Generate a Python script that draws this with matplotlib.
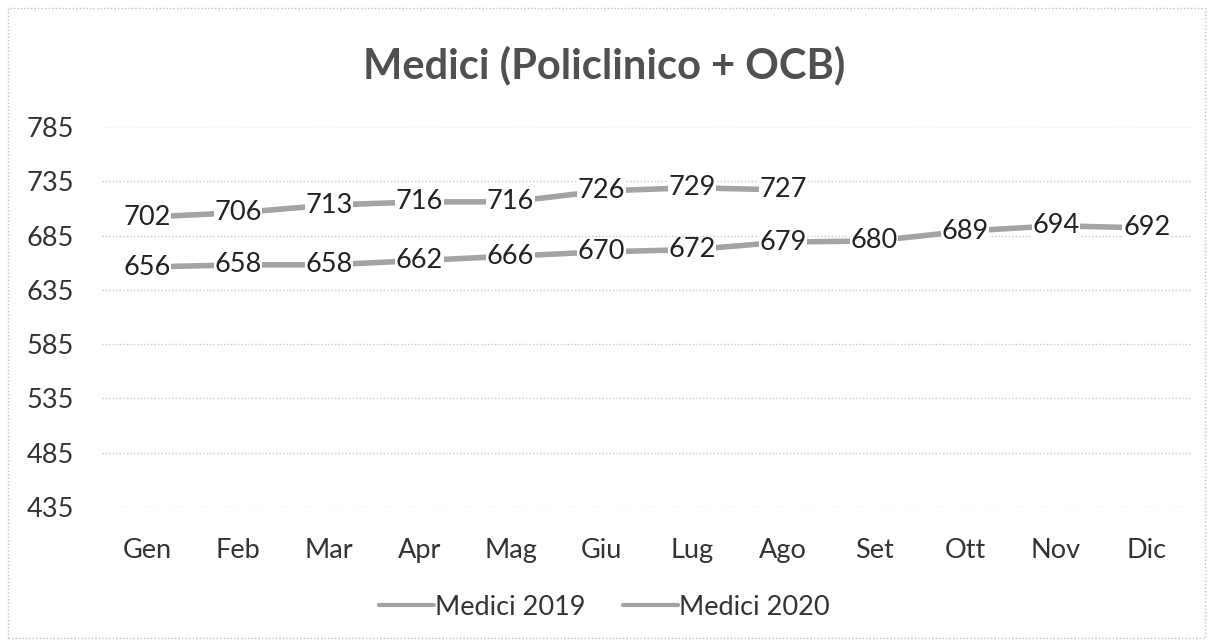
import matplotlib.pyplot as plt
from matplotlib.patches import Rectangle

# dati
mesi = ["Gen", "Feb", "Mar", "Apr", "Mag", "Giu", "Lug", "Ago", "Set", "Ott", "Nov", "Dic"]
medici_2019 = [656, 658, 658, 662, 666, 670, 672, 679, 680, 689, 694, 692]
medici_2020 = [702, 706, 713, 716, 716, 726, 729, 727]
y_ticks = [435, 485, 535, 585, 635, 685, 735, 785]

plt.rcParams['font.family'] = ['Lato', 'DejaVu Sans']

fig = plt.figure(figsize=(12.09, 6.41), dpi=100)
ax = fig.add_axes([0.084, 0.209, 0.902, 0.593])

line_color = "#a3a3a3"
text_color = "#333333"

x19 = list(range(len(medici_2019)))
x20 = list(range(len(medici_2020)))
ax.plot(x19, medici_2019, color=line_color, lw=4, solid_capstyle="round", label="Medici 2019", zorder=2)
ax.plot(x20, medici_2020, color=line_color, lw=4, solid_capstyle="round", label="Medici 2020", zorder=2)

# etichette dati centrate sui punti
for xs, ys in ((x19, medici_2019), (x20, medici_2020)):
    for x, y in zip(xs, ys):
        ax.text(x, y, str(y), ha="center", va="center", fontsize=19.5, color="#222222", zorder=3,
                bbox=dict(boxstyle="square,pad=0.02", fc="white", ec="none"))

ax.set_xlim(-0.5, len(mesi) - 0.5)
ax.set_ylim(435, 785)
ax.set_xticks(range(len(mesi)))
ax.set_xticklabels(mesi)
ax.set_yticks(y_ticks)
ax.tick_params(axis="both", length=0, labelsize=19.5, labelcolor=text_color)
ax.tick_params(axis="x", pad=22)
ax.tick_params(axis="y", pad=20)
for s in ax.spines.values():
    s.set_visible(False)
for v in y_ticks[:-1]:
    ax.axhline(v, color="#c8c8c8", linestyle=(0, (1, 1.5)), lw=1, zorder=0)
ax.axhline(y_ticks[-1], color="#ececec", linestyle=(0, (1, 2)), lw=1, zorder=0)

fig.text(0.5, 0.898, "Medici (Policlinico + OCB)", ha="center", va="center",
         fontsize=30, fontweight="bold", color="#505050")

leg = fig.legend(loc="center", bbox_to_anchor=(0.5, 0.053), ncol=2, frameon=False,
                 fontsize=19.5, handlelength=2.0, handletextpad=0.05, columnspacing=1.4,
                 labelcolor=text_color)
for h in leg.get_lines():
    h.set_linewidth(3)

# bordo del grafico
fig.patches.append(Rectangle((0.007, 0.005), 0.99, 0.982, transform=fig.transFigure,
                             fill=False, ec="#c0c0c0", lw=1, ls=(0, (1, 1.5))))

fig.savefig("out.png", dpi=100)
